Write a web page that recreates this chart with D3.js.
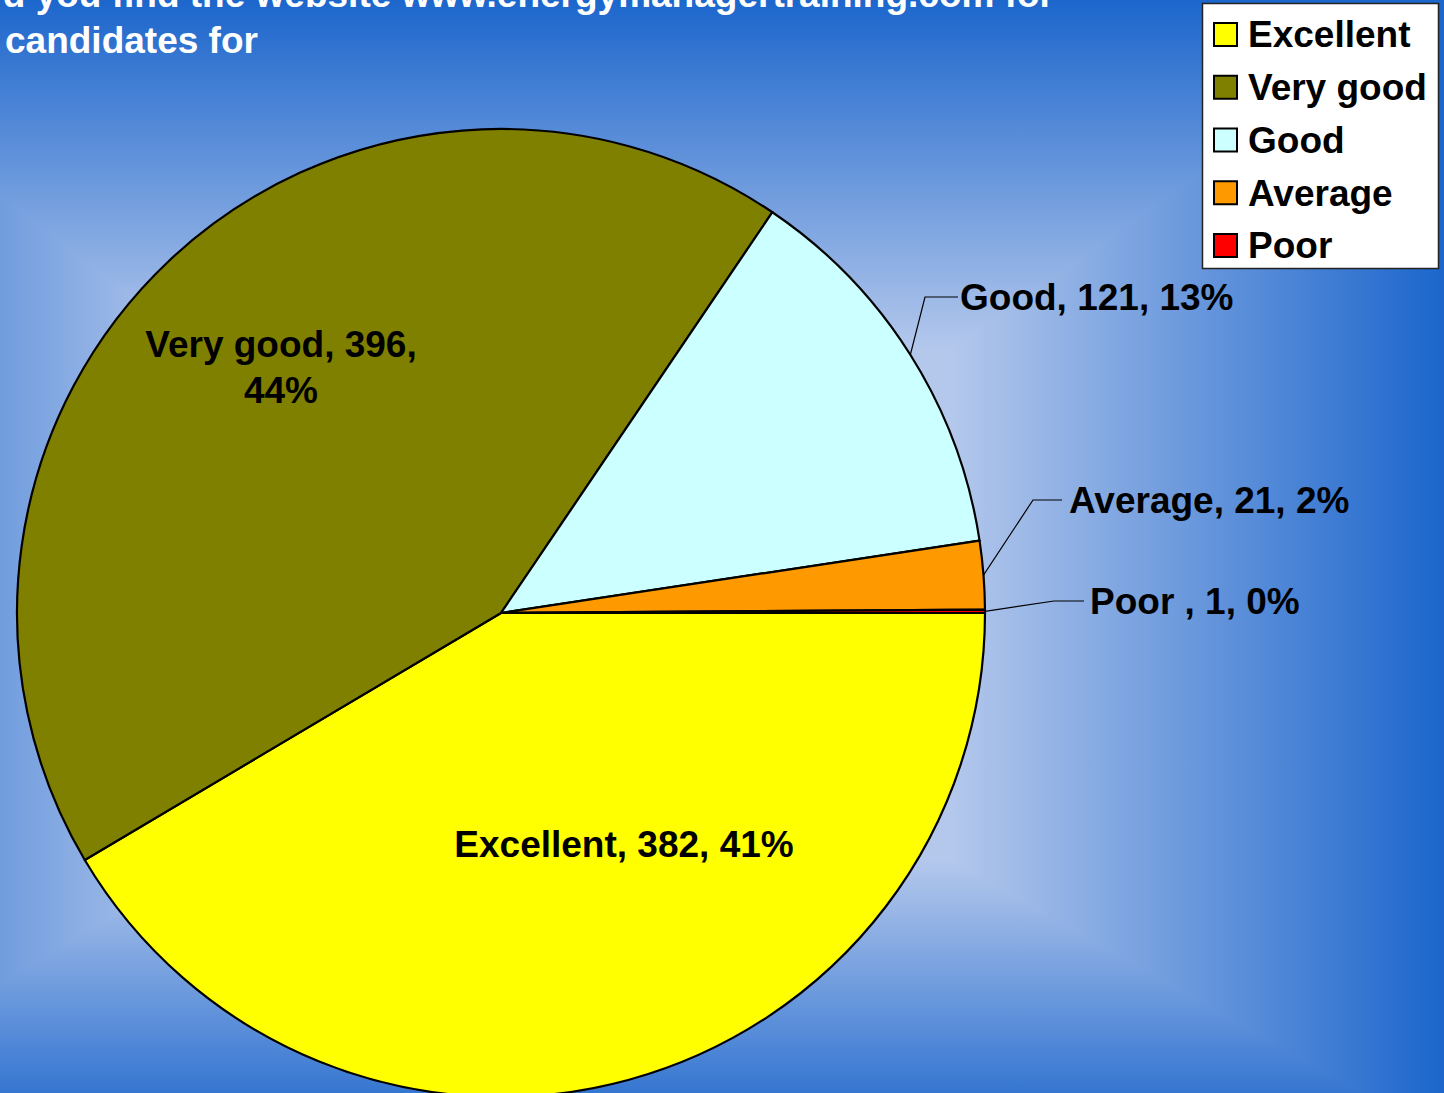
<!DOCTYPE html>
<html>
<head>
<meta charset="utf-8">
<script src="https://cdn.jsdelivr.net/npm/d3@7"></script>
<style>
html,body{margin:0;padding:0;overflow:hidden;background:#1f66cc;}
text{font-family:"Liberation Sans",Arial,sans-serif;font-weight:bold;}
</style>
</head>
<body>
<script>
// ---- data ----
const categories = ["Excellent", "Very good", "Good", "Average", "Poor"];
const values = [382, 396, 121, 21, 1];
const percents = ["41%", "44%", "13%", "2%", "0%"];
const labelNames = ["Excellent", "Very good", "Good", "Average", "Poor "];
const colors = ["#ffff00", "#808000", "#ccffff", "#ff9900", "#ff0000"];
const titleLines = ["d you find the website www.energymanagertraining.com for", "candidates for"];

// ---- layout ----
const W = 1444, H = 1093;
const cx = 501, cy = 613, R = 484;
const fontSize = 37;

const svg = d3.select("body").append("svg").attr("width", W).attr("height", H);
const defs = svg.append("defs");

// rectangular (path-style) gradient background
const light = "#b4c8ec", dark = "#1c66cc";
const inner = {x1: 200, x2: 950, y1: 350, y2: 860};
const outer = {x1: -250, x2: W, y1: 0, y2: 1140};
function lg(id, x1, y1, x2, y2) {
  const g = defs.append("linearGradient").attr("id", id).attr("gradientUnits", "userSpaceOnUse")
    .attr("x1", x1).attr("y1", y1).attr("x2", x2).attr("y2", y2);
  g.append("stop").attr("offset", 0).attr("stop-color", light);
  g.append("stop").attr("offset", 1).attr("stop-color", dark);
}
lg("gTop", 0, inner.y1, 0, outer.y1);
lg("gBot", 0, inner.y2, 0, outer.y2);
lg("gLeft", inner.x1, 0, outer.x1, 0);
lg("gRight", inner.x2, 0, outer.x2, 0);
const bg = svg.append("g");
const pts = a => a.map(p => p.join(",")).join(" ");
bg.append("rect").attr("x", inner.x1 - 2).attr("y", inner.y1 - 2).attr("width", inner.x2 - inner.x1 + 4).attr("height", inner.y2 - inner.y1 + 4).attr("fill", light);
[["gTop", [[outer.x1, outer.y1], [outer.x2, outer.y1], [inner.x2, inner.y1], [inner.x1, inner.y1]]],
 ["gBot", [[outer.x1, outer.y2], [outer.x2, outer.y2], [inner.x2, inner.y2], [inner.x1, inner.y2]]],
 ["gLeft", [[outer.x1, outer.y1], [inner.x1, inner.y1], [inner.x1, inner.y2], [outer.x1, outer.y2]]],
 ["gRight", [[outer.x2, outer.y1], [inner.x2, inner.y1], [inner.x2, inner.y2], [outer.x2, outer.y2]]]
].forEach(([id, p]) => {
  bg.append("polygon").attr("points", pts(p)).attr("fill", `url(#${id})`)
    .attr("stroke", `url(#${id})`).attr("stroke-width", 1.5).attr("stroke-linejoin", "round");
});

// title (partially cut off in the original)
const title = svg.append("g").attr("fill", "#ffffff").style("font-size", fontSize + "px");
title.append("text").attr("x", 1054).attr("y", 7).attr("text-anchor", "end").text(titleLines[0]);
title.append("text").attr("x", 5).attr("y", 53).text(titleLines[1]);

// pie
const data = categories.map((c, i) => ({name: c, value: values[i], color: colors[i], label: labelNames[i], pct: percents[i]}));
const pie = d3.pie().value(d => d.value).sort(null).startAngle(Math.PI / 2).endAngle(Math.PI / 2 + 2 * Math.PI);
const arcs = pie(data);
const arc = d3.arc().innerRadius(0).outerRadius(R);
const g = svg.append("g").attr("transform", `translate(${cx},${cy})`);
g.selectAll("path").data(arcs).join("path")
  .attr("d", arc).attr("fill", d => d.data.color)
  .attr("stroke", "#000").attr("stroke-width", 2.2).attr("stroke-linejoin", "round");

// inside labels
const inside = {
  "Excellent": {x: 624 - cx, y: 857 - cy, lines: d => [`${d.data.label}, ${d.data.value}, ${d.data.pct}`]},
  "Very good": {x: 281 - cx, y: 357 - cy, lines: d => [`${d.data.label}, ${d.data.value},`, d.data.pct]}
};
arcs.filter(d => inside[d.data.name]).forEach(d => {
  const p = inside[d.data.name];
  const t = g.append("text").attr("text-anchor", "middle").style("font-size", fontSize + "px").attr("fill", "#000");
  p.lines(d).forEach((s, i) => t.append("tspan").attr("x", p.x).attr("y", p.y + i * 46).text(s));
});

// outside labels with leader lines
const outside = {
  "Good": {ex: 925, ey: 297, lx: 958, tx: 960},
  "Average": {ex: 1033, ey: 500, lx: 1062, tx: 1069},
  "Poor": {ex: 1054, ey: 601, lx: 1084, tx: 1090}
};
arcs.filter(d => outside[d.data.name]).forEach(d => {
  const p = outside[d.data.name];
  const a = (d.startAngle + d.endAngle) / 2;
  const sx = cx + R * Math.sin(a), sy = cy - R * Math.cos(a);
  svg.append("polyline").attr("points", pts([[sx, sy], [p.ex, p.ey], [p.lx, p.ey]]))
    .attr("fill", "none").attr("stroke", "#000").attr("stroke-width", 1.2);
  svg.append("text").attr("x", p.tx).attr("y", p.ey).attr("dy", "0.36em")
    .style("font-size", fontSize + "px").attr("fill", "#000")
    .text(`${d.data.label}, ${d.data.value}, ${d.data.pct}`);
});

// legend
const leg = svg.append("g");
leg.append("rect").attr("x", 1202.5).attr("y", 3.5).attr("width", 236).attr("height", 265)
  .attr("fill", "#fff").attr("stroke", "#222").attr("stroke-width", 1.5);
const ly = d3.scalePoint().domain(categories).range([34, 245]);
const items = leg.selectAll("g.item").data(data).join("g").attr("class", "item")
  .attr("transform", d => `translate(0,${ly(d.name)})`);
items.append("rect").attr("x", 1214).attr("y", -11).attr("width", 23).attr("height", 23)
  .attr("fill", d => d.color).attr("stroke", "#000").attr("stroke-width", 2);
items.append("text").attr("x", 1248).attr("y", 0).attr("dy", "0.36em")
  .style("font-size", fontSize + "px").attr("fill", "#000").text(d => d.name);
</script>
</body>
</html>
